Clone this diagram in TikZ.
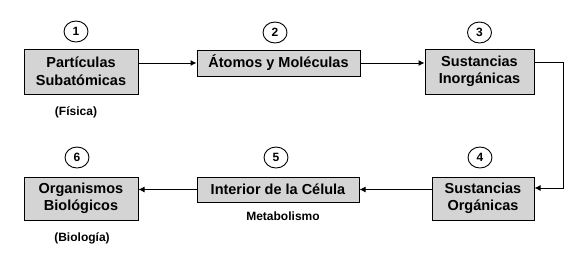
\documentclass[tikz,border=0pt]{standalone}
\usepackage{fontspec}
\setmainfont{Liberation Sans}
\usetikzlibrary{arrows.meta,shapes.geometric}
\definecolor{boxgray}{RGB}{212,212,212}
\begin{document}
\begin{tikzpicture}[x=1pt,y=-1pt,
  stagebox/.style={draw=black,line width=1pt,fill=boxgray,minimum width=#1,inner sep=0pt,
    font=\fontsize{14.5}{17.5}\selectfont\bfseries,align=center},
  numcircle/.style={draw=black,line width=0.9pt,ellipse,minimum width=24pt,minimum height=21pt,inner sep=0pt,
    font=\fontsize{12}{14}\selectfont\bfseries},
  sublabel/.style={font=\fontsize{12}{14}\selectfont\bfseries},
  flow/.style={line width=1pt,-{Latex[length=6pt,width=6pt]}}]
\useasboundingbox (0,0) rectangle (587,260);
\node[stagebox=114pt,minimum height=45pt] (b1) at (81,71.5) {Partículas\\Subatómicas};
\node[stagebox=163pt,minimum height=26pt] (b2) at (278.5,63) {Átomos y Moléculas};
\node[stagebox=109pt,minimum height=45pt] (b3) at (479.5,71.5) {Sustancias\\Inorgánicas};
\node[stagebox=102pt,minimum height=43pt] (b4) at (483,198.5) {Sustancias\\Orgánicas};
\node[stagebox=162pt,minimum height=25pt] (b5) at (278,189.5) {Interior de la Célula};
\node[stagebox=114pt,minimum height=43pt] (b6) at (81,198.5) {Organismos\\Biológicos};
\node[numcircle] (c1) at (76,31.5) {1};
\node[numcircle] (c2) at (275,32.5) {2};
\node[numcircle] (c3) at (479.5,32.5) {3};
\node[numcircle] (c4) at (480,157.5) {4};
\node[numcircle] (c5) at (276,157.5) {5};
\node[numcircle] (c6) at (77,157.5) {6};
\node[sublabel] (l1) at (76,112) {(Física)};
\node[sublabel] (l5) at (283,216) {Metabolismo};
\node[sublabel] (l6) at (82,238) {(Biología)};
\coordinate (k1) at (563,62);
\coordinate (k2) at (563,188);
\draw[flow] (b1.east |- b2.west) -- (b2.west);
\draw[flow] (b2.east) -- (b3.west |- b2.east);
\draw[flow] (b3.east |- k1) -- (k1) -- (k2) -- (b4.east |- k2);
\draw[flow] (b4.west |- b5.west) -- (b5.east);
\draw[flow] (b5.west) -- (b6.east |- b5.west);
\end{tikzpicture}
\end{document}
